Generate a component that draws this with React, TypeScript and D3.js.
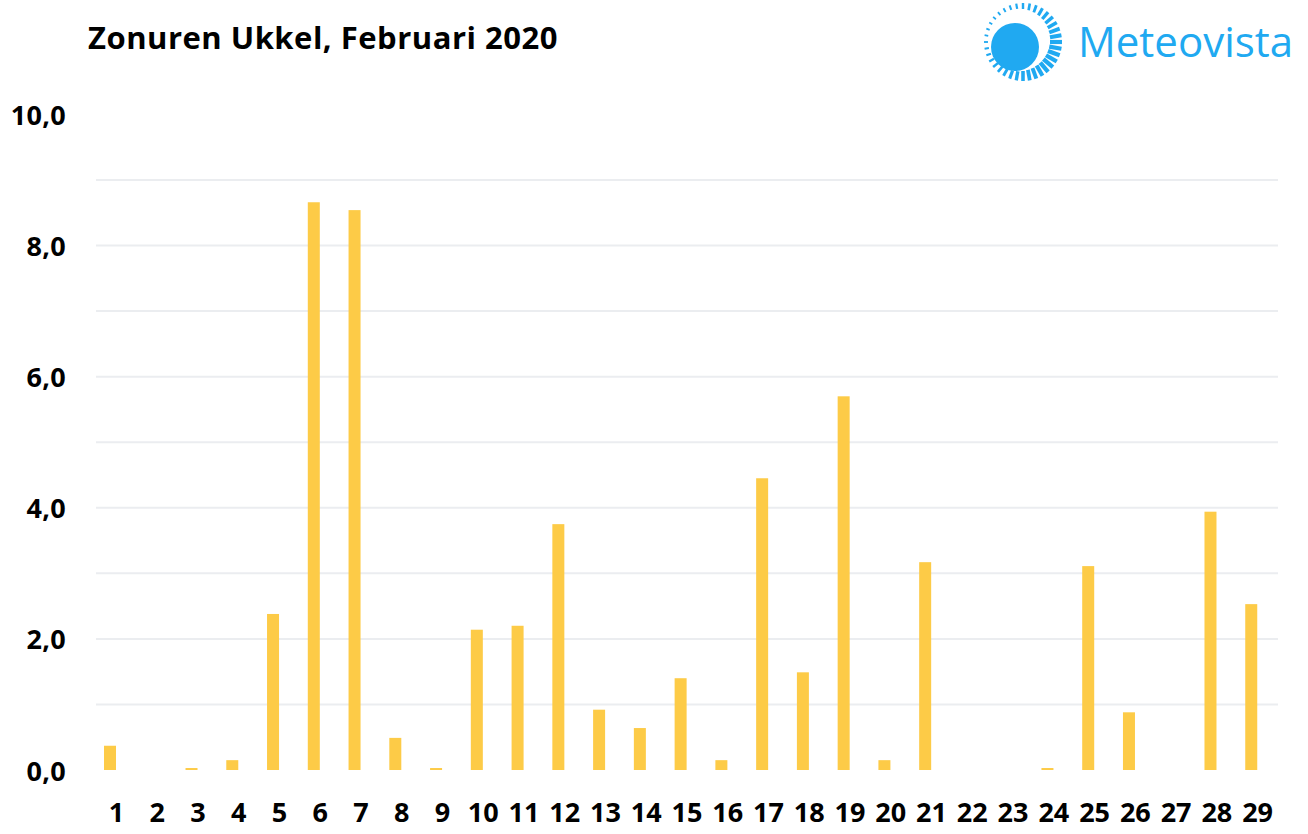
import React from "react";
import * as d3 from "d3";

const days: string[] = Array.from({ length: 29 }, (_, i) => String(i + 1));
const sunHours: number[] = [
  0.37, 0, 0.03, 0.15, 2.38, 8.66, 8.54, 0.49, 0.03, 2.14,
  2.2, 3.75, 0.92, 0.64, 1.4, 0.15, 4.45, 1.49, 5.7, 0.15,
  3.17, 0, 0, 0.03, 3.11, 0.88, 0, 3.94, 2.53,
];
const yTicks: number[] = [0, 2, 4, 6, 8, 10];
const gridValues: number[] = [1, 2, 3, 4, 5, 6, 7, 8, 9];
const title = "Zonuren Ukkel, Februari 2020";
const brand = "Meteovista";

const W = 1308;
const H = 834;
const FONT = "'Open Sans', 'Noto Sans', sans-serif";
const BAR = "#FDCB47";
const BLUE = "#20A9F1";

export default function App() {
  const x = d3.scaleBand<string>().domain(days).range([96, 1278]).padding(0);
  const y = d3.scaleLinear().domain([0, 10]).range([770, 114.4]);
  const fmt = (v: number) => v.toFixed(1).replace(".", ",");

  // sun logo ticks
  const cx = 1023, cy = 42, R = 39;
  const nTicks = 36;
  const dir = Math.atan2(2, 4);
  const ticks = d3.range(nTicks).map((i) => {
    const a = (i / nTicks) * Math.PI * 2;
    const c = Math.cos(a - dir);
    const len = 8 + 4.5 * c;
    const w = 3 + 1.3 * c;
    return {
      x1: cx + Math.cos(a) * (R - len),
      y1: cy + Math.sin(a) * (R - len),
      x2: cx + Math.cos(a) * R,
      y2: cy + Math.sin(a) * R,
      w,
    };
  });

  return (
    <svg
      width={W}
      height={H}
      style={{ position: "absolute", left: 0, top: 0, background: "#fff" }}
    >
      <rect width={W} height={H} fill="#fff" />
      <text x={88} y={49} fontFamily={FONT} fontWeight={700} fontSize={31} letterSpacing={0.5} fill="#000">
        {title}
      </text>

      {/* logo */}
      <g>
        {ticks.map((t, i) => (
          <line key={i} x1={t.x1} y1={t.y1} x2={t.x2} y2={t.y2} stroke={BLUE} strokeWidth={t.w} />
        ))}
        <circle cx={1015} cy={47} r={24} fill={BLUE} />
        <text x={1078} y={57} fontFamily={FONT} fontSize={42} fill={BLUE}>
          {brand}
        </text>
      </g>

      {/* gridlines */}
      {gridValues.map((g) => (
        <line key={g} x1={96} x2={1278} y1={y(g)} y2={y(g)} stroke="#EBEDF0" strokeWidth={2} />
      ))}

      {/* y labels */}
      {yTicks.map((t) => (
        <text
          key={t}
          x={66}
          y={y(t)}
          textAnchor="end"
          dominantBaseline="central"
          fontFamily={FONT}
          fontWeight={700}
          fontSize={27}
          letterSpacing={0.3}
          fill="#000"
        >
          {fmt(t)}
        </text>
      ))}

      {/* bars */}
      {sunHours.map((v, i) => (
        <rect
          key={i}
          x={(x(days[i]) as number) + 8}
          width={12}
          y={y(v)}
          height={y(0) - y(v)}
          fill={BAR}
        />
      ))}

      {/* x labels */}
      {days.map((d) => (
        <text
          key={d}
          x={(x(d) as number) + x.bandwidth() / 2}
          y={811}
          textAnchor="middle"
          dominantBaseline="central"
          fontFamily={FONT}
          fontWeight={700}
          fontSize={27}
          fill="#000"
        >
          {d}
        </text>
      ))}
    </svg>
  );
}
